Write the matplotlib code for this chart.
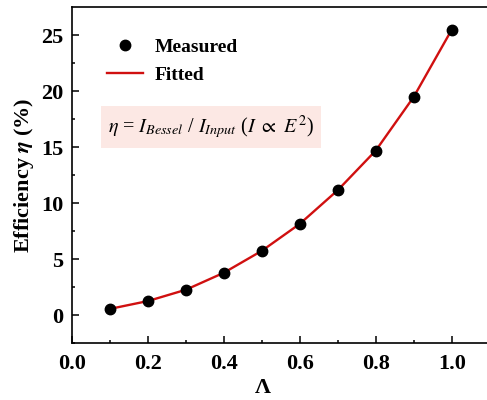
import numpy as np
import matplotlib.pyplot as plt
from matplotlib.patches import Rectangle

# data
lam = [0.1, 0.2, 0.3, 0.4, 0.5, 0.6, 0.7, 0.8, 0.9, 1.0]
eff = [0.55, 1.25, 2.26, 3.78, 5.74, 8.15, 11.16, 14.7, 19.5, 25.5]
xticks = [0.0, 0.2, 0.4, 0.6, 0.8, 1.0]
yticks = [0, 5, 10, 15, 20, 25]

plt.rcParams['font.family'] = ['Liberation Serif', 'DejaVu Serif']
plt.rcParams['mathtext.fontset'] = 'stix'

fig = plt.figure(figsize=(4.87, 4.0), dpi=100)
ax = fig.add_axes([72/487, 57/400, (489.7-72)/487, (343-7.3)/400])

ax.plot(lam, eff, color='#d01010', lw=1.7, label='Fitted', zorder=2)
ax.plot(lam, eff, 'o', color='black', ms=7.5, ls='none', label='Measured', zorder=3)

ax.set_xlim(0, 1.1)
ax.set_ylim(-2.5, 27.5)
ax.set_xticks(xticks)
ax.set_xticklabels([f'{v:.1f}' for v in xticks])
ax.set_yticks(yticks)
ax.set_xticks(np.arange(0.1, 1.1, 0.2), minor=True)
ax.set_yticks(np.arange(-2.5, 27.5, 5), minor=True)
ax.tick_params(which='both', direction='in', labelsize=16, width=1.1)
ax.tick_params(which='major', length=5)
ax.tick_params(which='minor', length=2.5)
ax.tick_params(axis='x', pad=8)
ax.tick_params(axis='y', pad=6)
for lab in ax.get_xticklabels() + ax.get_yticklabels():
    lab.set_fontweight('bold')
for s in ax.spines.values():
    s.set_linewidth(1.2)

ax.set_xlabel('Λ', fontsize=16, fontweight='bold')
ax.xaxis.set_label_coords(0.457, -0.105, transform=ax.transAxes)
ax.set_ylabel(r'Efficiency $\boldsymbol{\eta}$ (%)', fontsize=16, fontweight='bold', labelpad=4)

h, l = ax.get_legend_handles_labels()
ax.legend([h[1], h[0]], [l[1], l[0]], loc='upper left', frameon=False,
          bbox_to_anchor=(0.043, 0.96), prop={'weight': 'bold', 'size': 14},
          handlelength=1.85, handletextpad=0.6, labelspacing=0.55)

fig.add_artist(Rectangle((101/487, (400-148)/400), 220/487, 42/400,
                         transform=fig.transFigure, facecolor='#fce8e4',
                         edgecolor='none', zorder=1))
fig.text(108/487, 1-127/400,
         r'$\eta$ = $I_{Bessel}$ / $I_{Input}$ ($I$ $\propto$ $E^2$)',
         fontsize=14.5, ha='left', va='center', zorder=4)

fig.savefig('out.png', dpi=100)
